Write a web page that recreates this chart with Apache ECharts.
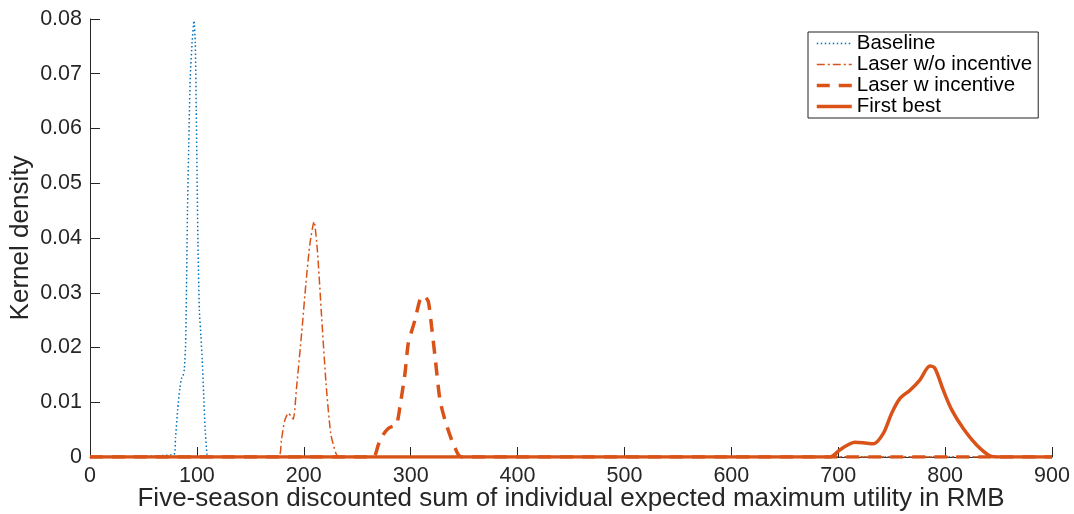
<!DOCTYPE html>
<html>
<head>
<meta charset="utf-8">
<script src="https://cdn.jsdelivr.net/npm/echarts@6/dist/echarts.min.js"></script>
<style>html,body{margin:0;padding:0;background:#fff;}#c{width:1074px;height:514px;}</style>
</head>
<body>
<div id="c"></div>
<script>
var seriesNames = ['Baseline', 'Laser w/o incentive', 'Laser w incentive', 'First best'];
var xTicks = [0, 100, 200, 300, 400, 500, 600, 700, 800, 900];
var yTicks = [0, 0.01, 0.02, 0.03, 0.04, 0.05, 0.06, 0.07, 0.08];

var baselineX = [0, 78.5, 80, 82, 84, 85.5, 87, 88.2, 89.5, 90.4, 91.2, 92.4, 93.8, 95.5, 97.3, 98.5, 99.4, 100.2, 101, 102.3, 103.8, 105, 106.3, 107.6, 109.5, 111, 900];
var baselineY = [0, 0.0005, 0.0035, 0.0086, 0.0125, 0.0143, 0.0148, 0.016, 0.0208, 0.0329, 0.045, 0.0573, 0.0695, 0.0756, 0.0797, 0.0756, 0.0634, 0.0511, 0.039, 0.0268, 0.022, 0.0177, 0.0117, 0.0055, 0.0005, 0, 0];

var woX = [0, 176, 179, 182, 185.5, 188, 190.2, 193.3, 198, 202, 205.8, 209.6, 212.7, 216.7, 220.8, 225.2, 230, 233, 900];
var woY = [0, 0, 0.003, 0.0065, 0.008, 0.0075, 0.0069, 0.0128, 0.0226, 0.0317, 0.039, 0.043, 0.0378, 0.0256, 0.0135, 0.0043, 0.0007, 0, 0];

var wX = [0, 265, 269.7, 274, 279, 283, 286.8, 290, 294.7, 297.8, 304, 308.7, 312.5, 316.5, 319.6, 322.8, 327.4, 332, 338.4, 344.6, 348, 900];
var wY = [0, 0, 0.0022, 0.004, 0.0052, 0.0056, 0.0058, 0.0092, 0.0153, 0.0208, 0.025, 0.0287, 0.0295, 0.0284, 0.0238, 0.0183, 0.0104, 0.0068, 0.0031, 0.0004, 0, 0];

var fbX = [0, 692, 701.6, 708, 715.7, 723.5, 732.8, 742.2, 750, 757.8, 767.2, 776.5, 785.8, 790.5, 798.3, 806.2, 817, 829.5, 842, 850, 900];
var fbY = [0, 0, 0.0013, 0.0021, 0.0027, 0.0026, 0.0024, 0.0043, 0.008, 0.0107, 0.0122, 0.0141, 0.0166, 0.0162, 0.0122, 0.0086, 0.0052, 0.0022, 0.0002, 0, 0];

function zip(xs, ys) { return xs.map(function (x, i) { return [x, ys[i]]; }); }

var FONT = '"Liberation Sans", Arial, Helvetica, sans-serif';
var TXT = '#262626';
var BLUE = '#0072BD';
var ORANGE = '#D95319';

var styles = [
  { color: BLUE, width: 1.5, type: [1.5, 2.5] },
  { color: ORANGE, width: 1.5, type: [8, 3, 2, 3] },
  { color: ORANGE, width: 3.5, type: [13, 9] },
  { color: ORANGE, width: 3.5, type: 'solid' }
];
var datas = [zip(baselineX, baselineY), zip(woX, woY), zip(wX, wY), zip(fbX, fbY)];

var chart = echarts.init(document.getElementById('c'), null, { renderer: 'canvas' });
chart.setOption({
  animation: false,
  backgroundColor: '#fff',
  textStyle: { fontFamily: FONT },
  grid: { left: 90, right: 22, top: 19, bottom: 57, containLabel: false, outerBoundsMode: 'none' },
  legend: {
    orient: 'vertical',
    left: 808,
    top: 32,
    data: seriesNames.map(function (n, i) {
      return {
        name: n,
        itemStyle: { opacity: 0, borderWidth: 0 },
        lineStyle: { color: styles[i].color, width: styles[i].width, type: styles[i].type, opacity: 1 }
      };
    }),
    itemWidth: 35,
    itemHeight: 14,
    itemGap: 0,
    padding: [1, 6, 1, 7],
    borderColor: '#222',
    borderWidth: 1,
    backgroundColor: '#fff',
    textStyle: { fontSize: 20.5, lineHeight: 21, color: '#000', fontFamily: FONT }
  },
  xAxis: {
    type: 'value',
    min: 0, max: 900, interval: 100,
    name: 'Five-season discounted sum of individual expected maximum utility in RMB',
    nameLocation: 'middle',
    nameGap: 29,
    nameMoveOverlap: false,
    nameTextStyle: { fontSize: 26, color: TXT, fontFamily: FONT },
    axisLine: { show: true, lineStyle: { color: TXT, width: 1 } },
    axisTick: { show: true, inside: true, length: 10, lineStyle: { color: TXT } },
    axisLabel: { fontSize: 21.5, color: TXT, margin: 8, fontFamily: FONT,
      formatter: function (v) { return xTicks.indexOf(v) >= 0 ? String(v) : ''; } },
    splitLine: { show: false }
  },
  yAxis: {
    type: 'value',
    min: 0, max: 0.08, interval: 0.01,
    name: 'Kernel density',
    nameLocation: 'middle',
    nameGap: 56,
    nameMoveOverlap: false,
    nameRotate: 90,
    nameTextStyle: { fontSize: 26, color: TXT, fontFamily: FONT },
    axisLine: { show: true, lineStyle: { color: TXT, width: 1 } },
    axisTick: { show: true, inside: true, length: 10, lineStyle: { color: TXT } },
    axisLabel: { fontSize: 21.5, color: TXT, margin: 8, fontFamily: FONT,
      formatter: function (v) {
        var r = Math.round(v * 100) / 100;
        for (var i = 0; i < yTicks.length; i++) { if (Math.abs(yTicks[i] - r) < 1e-9) return r === 0 ? '0' : r.toFixed(2); }
        return '';
      } },
    splitLine: { show: false }
  },
  series: seriesNames.map(function (n, i) {
    return {
      name: n, type: 'line', data: datas[i], showSymbol: false, symbol: 'none',
      smooth: i === 3 ? 0.3 : 0.2,
      lineStyle: styles[i], itemStyle: { color: styles[i].color }, z: 2 + i
    };
  })
});
</script>
</body>
</html>
